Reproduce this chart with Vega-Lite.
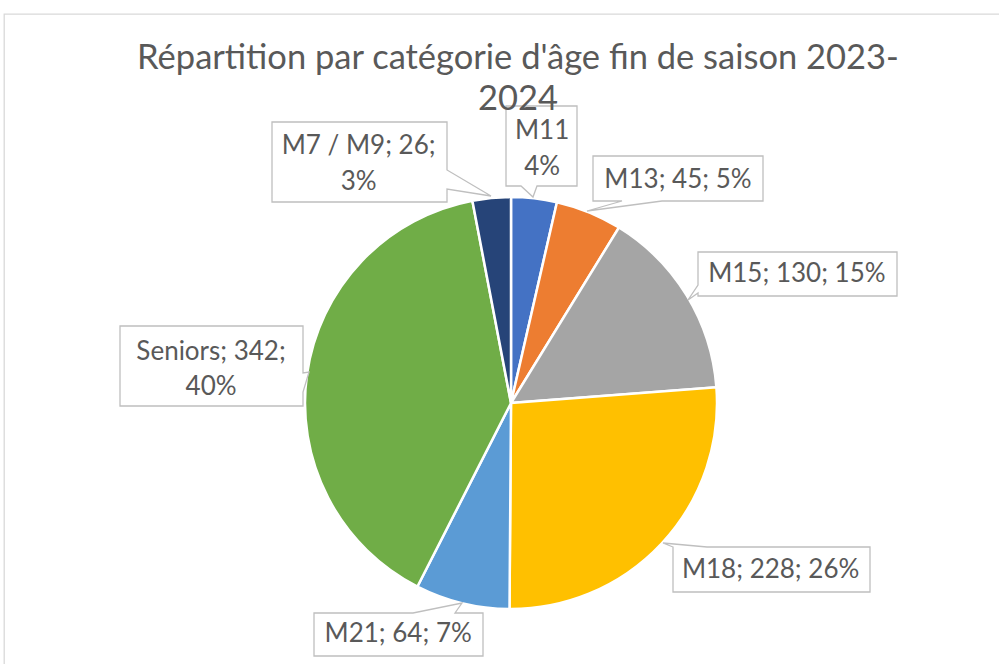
{
  "$schema": "https://vega.github.io/schema/vega-lite/v6.json",
  "width": 1014,
  "height": 778,
  "autosize": {"type": "none"},
  "padding": {"left": 4, "top": 14, "right": -19, "bottom": -128},
  "background": "white",
  "view": {"stroke": "#d9d9d9", "strokeWidth": 1.3},
  "title": {
    "text": ["Répartition par catégorie d'âge fin de saison 2023-", "2024"],
    "font": "Lato",
    "fontSize": 34.5,
    "fontWeight": "normal",
    "color": "#595959",
    "lineHeight": 41,
    "offset": -103,
    "dx": 7,
    "anchor": "middle",
    "frame": "group"
  },
  "data": {
    "values": [
      {"cat": "M11", "value": 31, "ord": 1, "label": "M11\n4%"},
      {"cat": "M13", "value": 45, "ord": 2, "label": "M13; 45; 5%"},
      {"cat": "M15", "value": 130, "ord": 3, "label": "M15; 130; 15%"},
      {"cat": "M18", "value": 228, "ord": 4, "label": "M18; 228; 26%"},
      {"cat": "M21", "value": 64, "ord": 5, "label": "M21; 64; 7%"},
      {"cat": "Seniors", "value": 342, "ord": 6, "label": "Seniors; 342;\n40%"},
      {"cat": "M7 / M9", "value": 26, "ord": 7, "label": "M7 / M9; 26;\n3%"}
    ]
  },
  "layer": [
    {
      "mark": {"type": "arc", "radius": 206, "stroke": "white", "strokeWidth": 2.5},
      "encoding": {
        "theta": {"field": "value", "type": "quantitative", "stack": true},
        "order": {"field": "ord", "type": "quantitative"},
        "color": {
          "field": "cat", "type": "nominal", "legend": null,
          "scale": {
            "domain": ["M11", "M13", "M15", "M18", "M21", "Seniors", "M7 / M9"],
            "range": ["#4472c4", "#ed7d31", "#a5a5a5", "#ffc000", "#5b9bd5", "#70ad47", "#264478"]
          }
        }
      }
    },
    {
      "mark": {"type": "point", "filled": true, "fill": "white", "stroke": "#bfbfbf", "strokeWidth": 1.3, "opacity": 1, "size": 4},
      "encoding": {
        "shape": {
          "field": "cat", "type": "nominal", "legend": null,
          "scale": {
            "domain": ["M11", "M13", "M15", "M18", "M21", "Seniors", "M7 / M9"],
            "range": [
              "M-5,-297H66V-217H26L22,-206L10,-217H-5Z",
              "M82,-247H252V-202H151L76,-192L111,-202H82Z",
              "M187,-151H386V-107H187V-110L177,-103L187,-118Z",
              "M162,144L152,140L196,144H359V189H162Z",
              "M-197,210H-98L-49,200L-56,210H-28V253H-197Z",
              "M-391,-77H-208V-30L-202,-31L-208,-11V3H-391Z",
              "M-239,-281H-64V-233L-20,-207L-64,-214V-201H-239Z"
            ]
          }
        }
      }
    },
    {
      "mark": {"type": "text", "radius": 206, "dx": 8, "dy": -67, "font": "Lato", "fontSize": 26, "color": "#595959", "lineBreak": "\n", "lineHeight": 36},
      "encoding": {
        "theta": {"field": "value", "type": "quantitative", "stack": true},
        "order": {"field": "ord", "type": "quantitative"},
        "text": {"condition": {"test": "datum.cat === 'M11'", "field": "label"}, "value": ""}
      }
    },
    {
      "mark": {"type": "text", "radius": 206, "dx": 89, "dy": -32, "font": "Lato", "fontSize": 26, "color": "#595959", "lineBreak": "\n", "lineHeight": 36},
      "encoding": {
        "theta": {"field": "value", "type": "quantitative", "stack": true},
        "order": {"field": "ord", "type": "quantitative"},
        "text": {"condition": {"test": "datum.cat === 'M13'", "field": "label"}, "value": ""}
      }
    },
    {
      "mark": {"type": "text", "radius": 206, "dx": 110, "dy": -22, "font": "Lato", "fontSize": 26, "color": "#595959", "lineBreak": "\n", "lineHeight": 36},
      "encoding": {
        "theta": {"field": "value", "type": "quantitative", "stack": true},
        "order": {"field": "ord", "type": "quantitative"},
        "text": {"condition": {"test": "datum.cat === 'M15'", "field": "label"}, "value": ""}
      }
    },
    {
      "mark": {"type": "text", "radius": 206, "dx": 109, "dy": 26, "font": "Lato", "fontSize": 26, "color": "#595959", "lineBreak": "\n", "lineHeight": 36},
      "encoding": {
        "theta": {"field": "value", "type": "quantitative", "stack": true},
        "order": {"field": "ord", "type": "quantitative"},
        "text": {"condition": {"test": "datum.cat === 'M18'", "field": "label"}, "value": ""}
      }
    },
    {
      "mark": {"type": "text", "radius": 206, "dx": -64, "dy": 31, "font": "Lato", "fontSize": 26, "color": "#595959", "lineBreak": "\n", "lineHeight": 36},
      "encoding": {
        "theta": {"field": "value", "type": "quantitative", "stack": true},
        "order": {"field": "ord", "type": "quantitative"},
        "text": {"condition": {"test": "datum.cat === 'M21'", "field": "label"}, "value": ""}
      }
    },
    {
      "mark": {"type": "text", "radius": 206, "dx": -96, "dy": -22, "font": "Lato", "fontSize": 26, "color": "#595959", "lineBreak": "\n", "lineHeight": 35},
      "encoding": {
        "theta": {"field": "value", "type": "quantitative", "stack": true},
        "order": {"field": "ord", "type": "quantitative"},
        "text": {"condition": {"test": "datum.cat === 'Seniors'", "field": "label"}, "value": ""}
      }
    },
    {
      "mark": {"type": "text", "radius": 206, "dx": -133, "dy": -52, "font": "Lato", "fontSize": 26, "color": "#595959", "lineBreak": "\n", "lineHeight": 36},
      "encoding": {
        "theta": {"field": "value", "type": "quantitative", "stack": true},
        "order": {"field": "ord", "type": "quantitative"},
        "text": {"condition": {"test": "datum.cat === 'M7 / M9'", "field": "label"}, "value": ""}
      }
    }
  ]
}
